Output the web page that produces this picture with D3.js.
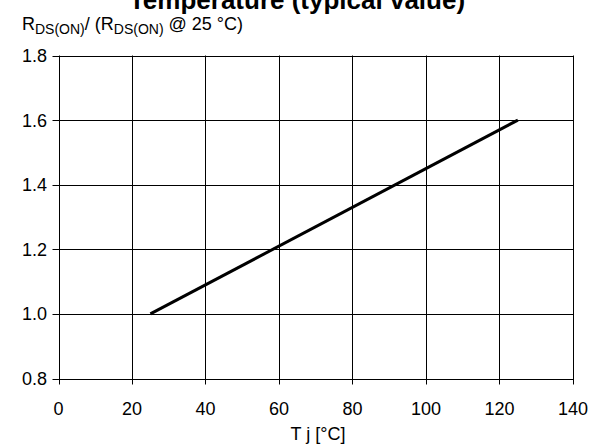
<!DOCTYPE html>
<html><head><meta charset="utf-8">
<script src="https://cdn.jsdelivr.net/npm/d3@7"></script>
<style>body{margin:0;background:#fff}svg{display:block}text{font-family:"Liberation Sans",Arial,sans-serif;fill:#000}</style>
</head><body><svg id="c" width="596" height="446"></svg>
<script>
const xTicks = [0, 20, 40, 60, 80, 100, 120, 140];
const yTicks = [0.8, 1.0, 1.2, 1.4, 1.6, 1.8];
const tempC = [25, 125];
const rdsRatio = [1.0, 1.6];
const titleText = "Temperature (typical value)";

const svg = d3.select("#c");
const x = d3.scaleLinear().domain([0, 140]).range([58.5, 573]);
const y = d3.scaleLinear().domain([0.8, 1.8]).range([378.5, 55.5]);

// grid
svg.append("g").selectAll("line").data(xTicks).join("line")
  .attr("x1", d => Math.round(x(d)) + 0.5).attr("x2", d => Math.round(x(d)) + 0.5)
  .attr("y1", y(1.8)).attr("y2", y(0.8) + 6).attr("stroke", "#000").attr("stroke-width", 1);
svg.append("g").selectAll("line").data(yTicks).join("line")
  .attr("y1", d => Math.round(y(d)) + 0.5).attr("y2", d => Math.round(y(d)) + 0.5)
  .attr("x1", x(0) - 6).attr("x2", x(140)).attr("stroke", "#000").attr("stroke-width", 1);

// tick labels
svg.append("g").selectAll("text").data(yTicks).join("text")
  .attr("x", 47).attr("y", d => y(d) + 6.5).attr("text-anchor", "end")
  .attr("font-size", 18).text(d => d.toFixed(1));
svg.append("g").selectAll("text").data(xTicks).join("text")
  .attr("x", d => x(d)).attr("y", 415).attr("text-anchor", "middle")
  .attr("font-size", 18).text(d => d);

// data line
const pts = tempC.map((t, i) => [t, rdsRatio[i]]);
svg.append("path").datum(pts)
  .attr("d", d3.line().x(d => x(d[0])).y(d => y(d[1])))
  .attr("fill", "none").attr("stroke", "#000").attr("stroke-width", 3);

// title (clipped at top, as in the reference)
svg.append("text").attr("x", 297).attr("y", 9).attr("text-anchor", "middle")
  .attr("font-size", 26).attr("font-weight", "bold").text(titleText);

// y axis label
const yl = svg.append("text").attr("x", 22).attr("y", 30).attr("font-size", 18);
yl.append("tspan").text("R");
yl.append("tspan").attr("font-size", 14).attr("dy", 4).text("DS(ON)");
yl.append("tspan").attr("dy", -4).text("/ (R");
yl.append("tspan").attr("font-size", 14).attr("dy", 4).text("DS(ON)");
yl.append("tspan").attr("dy", -4).text(" @ 25 °C)");

// x axis label
svg.append("text").attr("x", 318).attr("y", 440).attr("text-anchor", "middle")
  .attr("font-size", 18).text("T j [°C]");
</script></body></html>
